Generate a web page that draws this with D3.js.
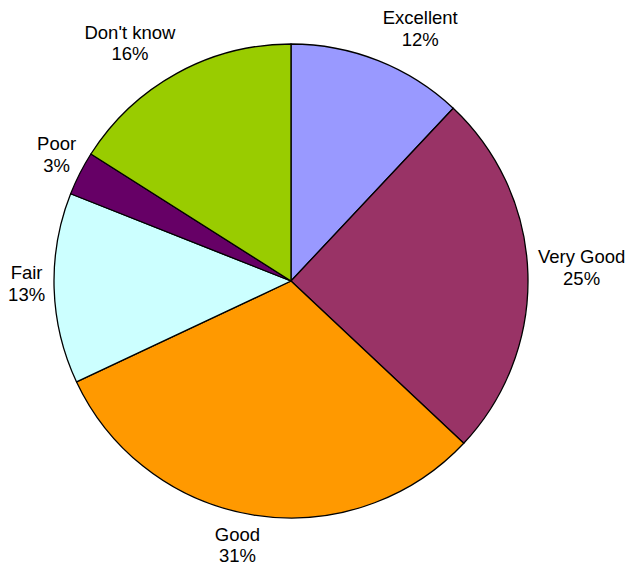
<!DOCTYPE html>
<html>
<head>
<meta charset="utf-8">
<script src="https://cdn.jsdelivr.net/npm/d3@7/dist/d3.min.js"></script>
<style>
  html, body { margin: 0; padding: 0; background: #fff; }
  svg { display: block; }
  text { font-family: "Liberation Sans", Arial, sans-serif; font-size: 18.5px; fill: #000; }
</style>
</head>
<body>
<svg id="chart" width="634" height="567"></svg>
<script>
// Survey ratings, in percent
const categories = ["Excellent", "Very Good", "Good", "Fair", "Poor", "Don't know"];
const values = [12, 25, 31, 13, 3, 16];
const colors = ["#9999FF", "#993366", "#FF9900", "#CCFFFF", "#660066", "#99CC00"];

// Small per-label adjustments to the automatic label placement
const labelNudge = {
  "Excellent": [0, -1],
  "Very Good": [-2, -5],
  "Good": [-4, -3],
  "Fair": [3, -6],
  "Poor": [7, -4],
  "Don't know": [5, -1]
};

const cx = 291, cy = 281, radius = 237;

const svg = d3.select("#chart");
const g = svg.append("g").attr("transform", `translate(${cx},${cy})`);

const table = categories.map((c, i) => ({ name: c, value: values[i], color: colors[i] }));

const pie = d3.pie().sort(null).value(d => d.value).startAngle(0).endAngle(2 * Math.PI);
const arcs = pie(table);

const arc = d3.arc().innerRadius(0).outerRadius(radius);

g.selectAll("path.slice")
  .data(arcs)
  .join("path")
  .attr("class", "slice")
  .attr("d", arc)
  .attr("fill", d => d.data.color)
  .attr("stroke", "#000")
  .attr("stroke-width", 1.3)
  .attr("stroke-linejoin", "round");

// Labels sit just outside the rim, pushed away from the pie by their own box size
const gap = 12;
const lineH = 21.7;
const labels = g.selectAll("g.label")
  .data(arcs)
  .join("g")
  .attr("class", "label");

labels.each(function (d) {
  const sel = d3.select(this);
  const t = sel.append("text").attr("text-anchor", "middle");
  t.append("tspan").attr("x", 0).attr("y", 0).text(d.data.name);
  t.append("tspan").attr("x", 0).attr("y", lineH).text(d.data.value + "%");
  const bb = t.node().getBBox();
  const w = bb.width / 2, h = bb.height / 2;
  const a = (d.startAngle + d.endAngle) / 2;
  const s = Math.sin(a), c = Math.cos(a);
  const fx = Math.sign(s) * Math.min(1, Math.abs(s) * 3);
  const px = (radius + gap) * s + w * fx;
  const py = -(radius + gap) * c - h * c;
  const n = labelNudge[d.data.name] || [0, 0];
  // shift so the text block's center lands on (px, py)
  const ox = px - (bb.x + bb.width / 2) + n[0];
  const oy = py - (bb.y + bb.height / 2) + n[1];
  t.attr("transform", `translate(${ox},${oy})`);
});
</script>
</body>
</html>
